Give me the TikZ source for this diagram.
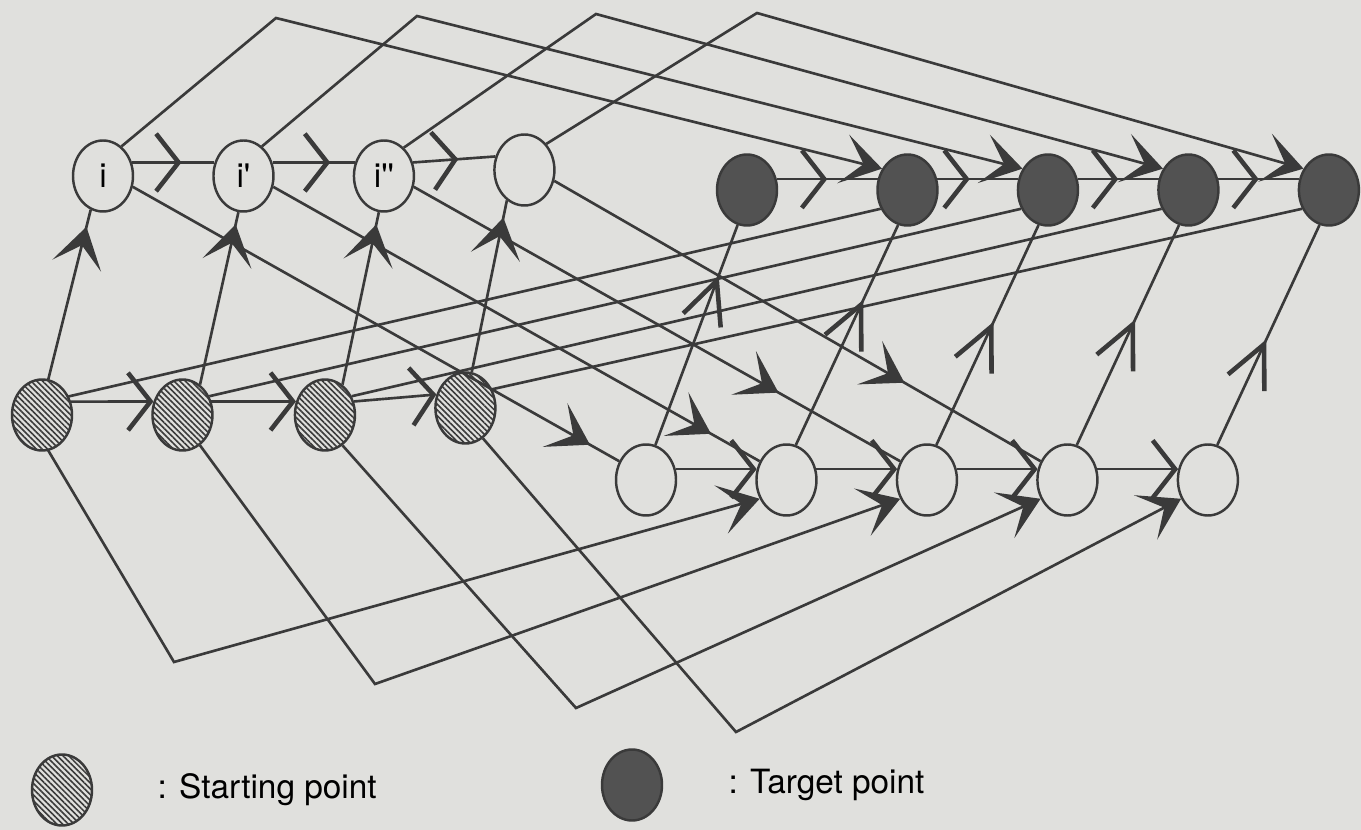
\documentclass[tikz,border=0pt]{standalone}
\usepackage{fontspec}
\setmainfont{TeX Gyre Heros}
\usepackage{xcolor}
\usepackage{tikz}
\usetikzlibrary{calc, positioning, shapes.geometric, arrows.meta, decorations.markings, patterns.meta}
\definecolor{paper}{RGB}{224,224,221}
\definecolor{ink}{RGB}{58,58,58}
\definecolor{darkpt}{RGB}{82,82,82}

\begin{document}
\begin{tikzpicture}[x=0.02cm, y=-0.02cm,
    waypt/.style={draw=ink, ellipse, line width=1.4pt, minimum width=1.2cm, minimum height=1.42cm, inner sep=0pt},
    startpt/.style={waypt, pattern={Lines[angle=-45, distance=2.3pt, line width=0.9pt]}, pattern color=ink},
    targetpt/.style={waypt, fill=darkpt},
    conn/.style={draw=ink, line width=1.5pt},
    chevron/.tip={Straight Barb[length=0.45cm, width=1.15cm, line width=2.6pt]},
    upbarb/.tip={Straight Barb[length=0.85cm, width=0.8cm, line width=2.6pt]},
    fatbarb/.tip={Stealth[length=0.8cm, width=1.0cm, inset=0.42cm]},
    chev/.style={postaction={decorate}, decoration={markings, mark=at position #1 with {\arrow[ink]{chevron}}}},
    upchev/.style={postaction={decorate}, decoration={markings, mark=at position #1 with {\arrow[ink]{upbarb}}}},
    barb/.style={postaction={decorate}, decoration={markings, mark=at position #1 with {\arrow[ink]{fatbarb}}}},
    >={chevron},
    font=\fontsize{19}{22}\selectfont, node distance=2.81cm]
  \fill[paper] (0,0) rectangle (1361,830);
  \useasboundingbox (0,0) rectangle (1361,830);

  \node[waypt] (T1) at (103,176) {i};
  \node[waypt, right of=T1] (T2) {i\textquotesingle};
  \node[waypt, right of=T2] (T3) {i\textquotesingle\textquotesingle};
  \node[waypt, right of=T3, yshift=0.12cm] (T4) {};

  \node[startpt] (H1) at (42,415) {};
  \node[startpt, right of=H1] (H2) {};
  \node[startpt, right of=H2, xshift=0.04cm] (H3) {};
  \node[startpt, right of=H3, yshift=0.14cm] (H4) {};

  \node[targetpt] (D1) at (747,190) {};
  \node[targetpt, right of=D1, xshift=0.4cm] (D2) {};
  \node[targetpt, right of=D2] (D3) {};
  \node[targetpt, right of=D3] (D4) {};
  \node[targetpt, right of=D4] (D5) {};

  \node[waypt] (B1) at (646,480) {};
  \node[waypt, right of=B1] (B2) {};
  \node[waypt, right of=B2] (B3) {};
  \node[waypt, right of=B3] (B4) {};
  \node[waypt, right of=B4] (B5) {};

  \coordinate (c1) at (276,18);
  \coordinate (c2) at (417,16);
  \coordinate (c3) at (596,14);
  \coordinate (c4) at (757,13);
  \coordinate (b1) at (174,662);
  \coordinate (b2) at (375,684);
  \coordinate (b3) at (576,708);
  \coordinate (b4) at (736,732);

  \draw[conn, chev=0.6] (T1.25) -- (T2.155);
  \draw[conn, chev=0.7] (T2.25) -- (T3.155);
  \draw[conn, chev=0.55] (T3.25) -- (T4.155);

  \draw[conn, ->] (H1.25) -- (H2.155);
  \draw[conn, ->] (H2.25) -- (H3.155);
  \draw[conn, ->] (H3.25) -- (H4.155);

  \draw[conn, chev=0.5] (D1.20) -- (D2.160);
  \draw[conn, chev=0.4] (D2.20) -- (D3.160);
  \draw[conn, chev=0.5] (D3.20) -- (D4.160);
  \draw[conn, chev=0.5] (D4.20) -- (D5.160);

  \draw[conn, ->] (B1.20) -- (B2.160);
  \draw[conn, ->] (B2.20) -- (B3.160);
  \draw[conn, ->] (B3.20) -- (B4.160);
  \draw[conn, ->] (B4.20) -- (B5.160);

  \draw[conn, barb=0.9] (H1.80) -- (T1.250);
  \draw[conn, barb=0.93] (H2.60) -- (T2.262);
  \draw[conn, barb=0.93] (H3.60) -- (T3.262);
  \draw[conn, barb=0.9] (H4.80) -- (T4.240);

  \draw[conn, -fatbarb] (T1.58) -- (c1) -- (D2.140);
  \draw[conn, -fatbarb] (T2.58) -- (c2) -- (D3.140);
  \draw[conn, -fatbarb] (T3.55) -- (c3) -- (D4.140);
  \draw[conn, -fatbarb] (T4.50) -- (c4) -- (D5.140);

  \draw[conn, barb=0.94] (T1.340) -- (B1.145);
  \draw[conn, barb=0.9] (T2.340) -- (B2.145);
  \draw[conn, barb=0.75] (T3.340) -- (B3.145);
  \draw[conn, barb=0.72] (T4.340) -- (B4.145);

  \draw[conn] (H1.35) -- (D2.215);
  \draw[conn] (H2.35) -- (D3.215);
  \draw[conn] (H3.35) -- (D4.215);
  \draw[conn] (H4.35) -- (D5.215);

  \draw[conn, -fatbarb] (H1.280) -- (b1) -- (B2.215);
  \draw[conn, -fatbarb] (H2.300) -- (b2) -- (B3.215);
  \draw[conn, -fatbarb] (H3.300) -- (b3) -- (B4.215);
  \draw[conn, -fatbarb] (H4.300) -- (b4) -- (B5.215);

  \draw[conn, upchev=0.77] (B1.75) -- (D1.255);
  \draw[conn, upchev=0.66] (B2.75) -- (D2.255);
  \draw[conn, upchev=0.56] (B3.75) -- (D3.255);
  \draw[conn, upchev=0.57] (B4.75) -- (D4.255);
  \draw[conn, upchev=0.48] (B5.75) -- (D5.255);

  \node[startpt] (key1) at (62,790) {};
  \node[right=1.28cm of key1, inner sep=0pt] (key1txt) {: Starting point};
  \node[targetpt] (key2) at (632,785) {};
  \node[right=1.3cm of key2, inner sep=0pt] (key2txt) {: Target point};
\end{tikzpicture}
\end{document}
